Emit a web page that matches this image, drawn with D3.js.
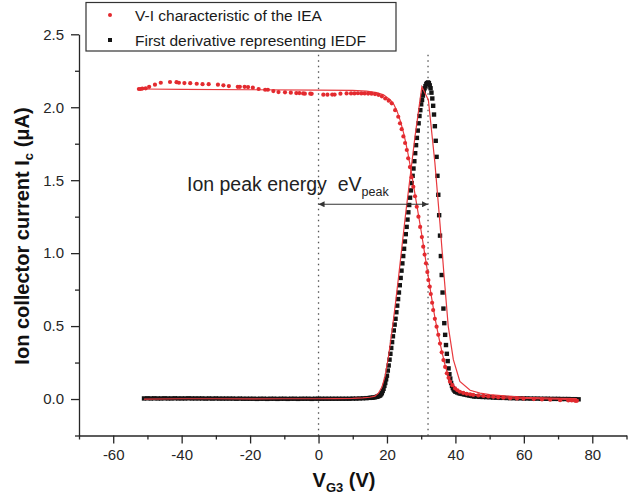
<!DOCTYPE html>
<html><head><meta charset="utf-8">
<script src="https://cdn.jsdelivr.net/npm/d3@7"></script>
<style>body{margin:0;background:#fff}svg{display:block}text{font-family:"Liberation Sans",Arial,sans-serif}</style>
</head><body><svg id="c" width="638" height="496"></svg>
<script>
// ---- data ----
const xMajorTicks = [-60,-40,-20,0,20,40,60,80];
const xMinorTicks = [-70,-50,-30,-10,10,30,50,70,90];
const yMajorTicks = [0,0.5,1.0,1.5,2.0,2.5];
const yMinorTicks = [-0.25,0.25,0.75,1.25,1.75,2.25];
const legendLabels = ["V-I characteristic of the IEA","First derivative representing IEDF"];
const peakVoltage = 32;
const markerLines = [0, 32];

// V-I characteristic (red dots)
const viPoints = [[-52.5,2.125],[-52,2.125],[-51.5,2.128],[-50.5,2.13],[-49.5,2.14],[-47.8,2.155],[-46.1,2.168],[-43.4,2.173],[-41.5,2.172],[-40.8,2.168],[-39.2,2.166],[-37.5,2.165],[-35.6,2.161],[-33.9,2.158],[-32.1,2.158],[-29.4,2.155],[-27.8,2.15],[-26.2,2.145],[-23.6,2.14],[-23,2.14],[-21.6,2.14],[-20.6,2.138],[-19.2,2.134],[-17.5,2.125],[-15.6,2.12],[-14.8,2.12],[-13.2,2.111],[-11.7,2.104],[-9.8,2.102],[-8.1,2.1],[-6.5,2.097],[-5.6,2.097],[-4.5,2.095],[-4,2.093],[-2.4,2.093],[-2,2.092],[1.4,2.086],[2.6,2.086],[4,2.087],[4.7,2.087],[6.4,2.093],[8.2,2.095],[9.5,2.095],[10.5,2.095],[11.5,2.096],[12.5,2.095],[13.5,2.095],[14.5,2.094],[15.5,2.093],[16.5,2.09],[17.5,2.085],[18.5,2.075],[19.5,2.06],[20.5,2.045],[21.4,2.027],[22.4,1.98],[23.3,1.935],[23.8,1.89],[24.3,1.85],[24.8,1.8],[25.3,1.755],[25.8,1.707],[26.2,1.65],[26.7,1.59],[27.2,1.52],[27.7,1.455],[28.2,1.39],[28.7,1.318],[29.2,1.25],[29.7,1.18],[30.2,1.11],[30.6,1.044],[31,0.99],[31.4,0.93],[31.8,0.87],[32.1,0.816],[32.5,0.77],[32.8,0.72],[33.2,0.66],[33.5,0.61],[34,0.55],[34.5,0.496],[35,0.44],[35.5,0.38],[36,0.32],[36.5,0.267],[37,0.22],[37.5,0.176],[38,0.145],[38.4,0.119],[39.1,0.095],[39.9,0.073],[40.6,0.06],[41.3,0.05],[42.3,0.042],[43.3,0.036],[44.3,0.032],[45.2,0.028],[46.7,0.025],[48.2,0.021],[49.6,0.018],[51.1,0.015],[52.5,0.012],[54,0.009],[56,0.006],[58,0.004],[59.9,0.003],[62.9,0.0],[65.3,-0.003],[67.7,-0.005],[70.6,-0.008],[73,-0.01],[74,-0.01],[75,-0.012],[75.5,-0.012]];

// Fit of the V-I characteristic (red line)
const viFit = [[-52,2.125],[-40,2.123],[-20,2.12],[0,2.118],[10,2.115],[14,2.11],[17,2.1],[19,2.085],[21,2.05],[22,2.02],[23,1.97],[24,1.9],[25,1.81],[26,1.7],[27,1.57],[28,1.43],[29,1.29],[30,1.15],[31,1.0],[32,0.85],[33,0.7],[34,0.56],[35,0.44],[36,0.33],[37,0.23],[38,0.15],[39,0.1],[40,0.07],[42,0.045],[45,0.028],[50,0.015],[55,0.008],[60,0.004],[70,0.0],[76,-0.005]];

// First derivative / IEDF (black squares)
const iedfPoints = [[-51,0.004],[-50,0.005],[-49,0.004],[-48,0.005],[-47,0.004],[-46,0.004],[-45,0.005],[-44,0.004],[-43,0.004],[-42,0.005],[-41,0.004],[-40,0.004],[-39,0.004],[-38,0.005],[-37,0.004],[-36,0.004],[-35,0.004],[-34,0.004],[-33,0.003],[-32,0.004],[-31,0.003],[-30,0.004],[-29,0.003],[-28,0.003],[-27,0.003],[-26,0.003],[-25,0.003],[-24,0.002],[-23,0.003],[-22,0.002],[-21,0.002],[-20,0.002],[-19,0.002],[-18,0.001],[-17,0.002],[-16,0.002],[-15,0.001],[-14,0.002],[-13,0.002],[-12,0.001],[-11,0.002],[-10,0.002],[-9,0.001],[-8,0.002],[-7,0.002],[-6,0.001],[-5,0.002],[-4,0.002],[-3,0.002],[-2,0.001],[-1,0.002],[0,0.002],[1,0.002],[2,0.002],[3,0.002],[4,0.002],[5,0.002],[6,0.002],[7,0.002],[8,0.002],[9,0.002],[10,0.003],[11,0.003],[12,0.004],[13,0.005],[14,0.006],[15,0.008],[15.5,0.009],[16,0.01],[16.5,0.012],
[17,0.015],[17.25,0.017],[17.5,0.02],[17.75,0.022],[18,0.025],[18.25,0.032],[18.5,0.04],[18.75,0.055],[19,0.07],[19.25,0.09],[19.5,0.11],[19.75,0.135],[20,0.16],[20.25,0.195],[20.5,0.23],[20.75,0.27],[21,0.31],[21.25,0.35],[21.5,0.39],[21.75,0.43],[22,0.47],[22.25,0.51],[22.5,0.55],[22.75,0.595],[23,0.64],[23.25,0.685],[23.5,0.73],[23.75,0.78],[24,0.83],[24.25,0.88],[24.5,0.93],[24.75,0.98],[25,1.03],[25.25,1.08],[25.5,1.13],[25.75,1.18],[26,1.23],[26.25,1.28],[26.5,1.33],[26.75,1.38],[27,1.43],[27.25,1.48],[27.5,1.53],[27.75,1.58],[28,1.63],[28.25,1.685],[28.5,1.74],[28.75,1.79],[29,1.84],[29.25,1.89],[29.5,1.94],[29.75,1.98],[30,2.02],[30.25,2.05],[30.5,2.08],[30.75,2.105],[31,2.13],[31.25,2.145],[31.5,2.16],[31.75,2.165],[32,2.17],[32.25,2.165],[32.5,2.15],[32.75,2.13],[33,2.1],[33.25,2.06],[33.5,2.01],[33.75,1.95],[34,1.87],[34.25,1.77],[34.5,1.66],[34.75,1.53],[35,1.4],[35.25,1.26],[35.5,1.12],[35.75,0.98],[36,0.85],[36.25,0.73],[36.5,0.62],[36.75,0.52],[37,0.44],[37.25,0.37],[37.5,0.31],[37.75,0.26],[38,0.21],[38.25,0.17],[38.5,0.14],[38.75,0.11],[39,0.09],[39.25,0.075],[39.5,0.065],[39.75,0.057],[40,0.05],[40.5,0.045],[41,0.04],[41.5,0.037],[42,0.035],[42.5,0.032],[43,0.03],[43.5,0.027],[44,0.025],[44.5,0.022],[45,0.02],[45.5,0.018],[46,0.017],[47,0.015],[48,0.014],[49,0.013],[50,0.012],[51,0.01],[52,0.009],[53,0.008],[54,0.008],[55,0.007],[56,0.006],[57,0.006],[58,0.005],[59,0.005],[60,0.004],[61,0.004],[62,0.003],[63,0.003],[64,0.003],[65,0.002],[66,0.002],[67,0.002],[68,0.001],[69,0.001],[70,0.001],[71,0.0],[72,0.0],[73,0.0],[74,-0.001],[75,-0.001],[76,-0.002]];

// Fit of the IEDF (red line)
const iedfFit = [[-51,0.0],[-40,0.002],[-30,0.002],[-20,0.001],[-10,0.002],[0,0.002],[5,0.003],[10,0.005],[13,0.008],[15,0.012],[16.5,0.02],[17.5,0.04],[18.5,0.08],[19.5,0.16],[20.5,0.3],[21.5,0.47],[22.5,0.66],[23.5,0.86],[24.5,1.07],[25.5,1.28],[26.5,1.47],[28.2,1.8],[30.2,2.14],[32.1,2.05],[34,1.62],[35.5,1.2],[36.7,0.84],[37.9,0.5],[39.4,0.27],[41.3,0.12],[44.3,0.06],[47.2,0.04],[50,0.03],[55,0.02],[60,0.012],[65,0.008],[70,0.005],[75.5,0.003]];

// ---- drawing ----
const svg = d3.select("#c");
const x = d3.scaleLinear().domain([-70,90]).range([79,626.5]);
const y = d3.scaleLinear().domain([-0.25,2.5]).range([435.5,34.3]);
const RED = "#e32a2f", RED_LINE = "#e8393e", INK = "#262626";

// dotted marker lines
svg.append("g").selectAll("line").data(markerLines).join("line")
  .attr("x1", d=>x(d)).attr("x2", d=>x(d))
  .attr("y1", y(2.36)).attr("y2", y(-0.25))
  .attr("stroke","#555").attr("stroke-width",1.3).attr("stroke-dasharray","1.6,3.9");

// IEDF squares
svg.append("g").selectAll("rect").data(iedfPoints).join("rect")
  .attr("x", d=>x(d[0])-2.2).attr("y", d=>y(d[1])-2.2)
  .attr("width",4.4).attr("height",4.4).attr("fill","#141414");

const line = d3.line().x(d=>x(d[0])).y(d=>y(d[1]));
svg.append("path").datum(iedfFit).attr("d",line).attr("fill","none").attr("stroke",RED_LINE).attr("stroke-width",1.2);
svg.append("path").datum(viFit).attr("d",line).attr("fill","none").attr("stroke",RED_LINE).attr("stroke-width",1.2);

// V-I dots
svg.append("g").selectAll("circle").data(viPoints).join("circle")
  .attr("cx", d=>x(d[0])).attr("cy", d=>y(d[1])).attr("r",2.1).attr("fill",RED);

// axes
svg.append("g").attr("transform",`translate(0,${y(-0.25)})`)
  .call(d3.axisBottom(x).tickValues(xMajorTicks).tickSize(8).tickSizeOuter(0).tickPadding(6).tickFormat(d=>String(d)));
svg.append("g").attr("transform",`translate(0,${y(-0.25)})`)
  .call(d3.axisBottom(x).tickValues(xMinorTicks).tickSize(4).tickSizeOuter(0).tickFormat(""))
  .select(".domain").remove();
svg.append("g").attr("transform",`translate(${x(-70)},0)`)
  .call(d3.axisLeft(y).tickValues(yMajorTicks).tickSize(8).tickSizeOuter(0).tickPadding(7).tickFormat(d3.format(".1f")));
svg.append("g").attr("transform",`translate(${x(-70)},0)`)
  .call(d3.axisLeft(y).tickValues(yMinorTicks).tickSize(4).tickSizeOuter(0).tickFormat(""))
  .select(".domain").remove();
svg.selectAll(".domain, .tick line").attr("stroke",INK).attr("stroke-width",1.3);
svg.selectAll(".tick text").attr("font-size",15).attr("fill",INK).attr("font-family",'"Liberation Sans",Arial,sans-serif');

// axis titles
const yt = svg.append("text").attr("transform","translate(29,236) rotate(-90)")
  .attr("text-anchor","middle").attr("font-size",20).attr("font-weight","bold").attr("fill","#111");
yt.append("tspan").text("Ion collector current I");
yt.append("tspan").attr("font-size",13).attr("dy",4).text("c");
yt.append("tspan").attr("dy",-4).text(" (\u03bcA)");

const xt = svg.append("text").attr("x",344).attr("y",487)
  .attr("text-anchor","middle").attr("font-size",20).attr("font-weight","bold").attr("fill","#111");
xt.append("tspan").text("V");
xt.append("tspan").attr("font-size",13).attr("dy",5).text("G3");
xt.append("tspan").attr("dy",-5).text(" (V)");

// annotation
const at = svg.append("text").attr("x",187).attr("y",190.7).attr("font-size",19.5).attr("fill","#222").attr("xml:space","preserve");
at.append("tspan").text("Ion peak energy  eV");
at.append("tspan").attr("font-size",12.5).attr("dy",5.5).text("peak");

const defs = svg.append("defs");
defs.append("marker").attr("id","ah").attr("viewBox","0 0 10 10").attr("refX",10).attr("refY",5)
  .attr("markerWidth",8).attr("markerHeight",6).attr("markerUnits","userSpaceOnUse").attr("orient","auto-start-reverse")
  .append("path").attr("d","M0,0L10,5L0,10z").attr("fill","#333");
svg.append("line").attr("x1",x(0)).attr("x2",x(peakVoltage)).attr("y1",y(1.335)).attr("y2",y(1.335))
  .attr("stroke","#333").attr("stroke-width",1.1)
  .attr("marker-start","url(#ah)").attr("marker-end","url(#ah)");

// legend
const lg = svg.append("g");
lg.append("rect").attr("x",86).attr("y",2.5).attr("width",310).attr("height",48.5)
  .attr("fill","#fff").attr("stroke","#333").attr("stroke-width",1.2);
lg.append("circle").attr("cx",110).attr("cy",15).attr("r",2).attr("fill",RED);
lg.append("rect").attr("x",108).attr("y",38).attr("width",4).attr("height",4).attr("fill","#141414");
lg.selectAll("text.l").data(legendLabels).join("text").attr("class","l")
  .attr("x",135).attr("y",(d,i)=>20.5+i*25).attr("font-size",15.5).attr("fill","#1a1a1a").text(d=>d);
</script></body></html>
